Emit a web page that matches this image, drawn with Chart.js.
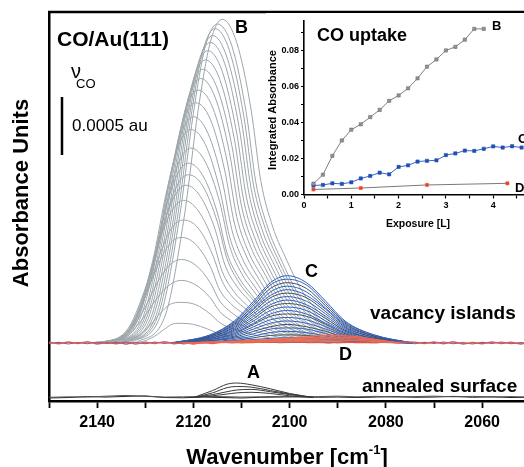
<!DOCTYPE html>
<html>
<head>
<meta charset="utf-8">
<script src="https://cdn.jsdelivr.net/npm/chart.js@4.4.0/dist/chart.umd.min.js"></script>
<style>
html, body { margin: 0; padding: 0; background: #fff; overflow: hidden; }
#wrap { position: relative; width: 524px; height: 467px; overflow: hidden; }
#main { position: absolute; left: 0; top: 0; }
#inset { position: absolute; left: 266px; top: 13px; }
</style>
</head>
<body>
<div id="wrap">
<canvas id="main" width="545" height="467" style="width:545px;height:467px"></canvas>
<canvas id="inset" width="282" height="222" style="width:282px;height:222px"></canvas>
</div>
<script>
const FONT = "'Liberation Sans', Arial, sans-serif";

// - - - - - - - - - - Spectra (wavenumber cm-1, absorbance in mAU) - - - - - - - - - -

// B band: gray curves, peak moves from ~2123 to ~2114 while growing
const bandB = [
  [[2136,0],[2131,.01],[2128,.06],[2126,.12],[2124.5,.16],[2123,.17],[2120,.16],[2117,.12],[2115,.085],[2112.5,.06],[2110,.046],[2106,.026],[2100,.01],[2092,0]],
  [[2138,0],[2133,.03],[2129.5,.13],[2127,.25],[2125,.33],[2122.5,.35],[2119.5,.33],[2116.5,.25],[2114.5,.175],[2112,.126],[2109.5,.095],[2105.5,.053],[2099.5,.021],[2091.5,0]],
  [[2140.5,0],[2134.5,.04],[2130.5,.21],[2127.5,.39],[2125,.50],[2122.5,.54],[2119.5,.50],[2116.5,.39],[2114.5,.27],[2112,.19],[2109.5,.146],[2105.5,.081],[2099.5,.032],[2091.5,0]],
  [[2140.5,0],[2134.5,.06],[2130.5,.27],[2127.5,.52],[2125,.67],[2122.5,.72],[2119.5,.67],[2116.5,.52],[2114.5,.36],[2112,.26],[2109.5,.19],[2105.5,.108],[2099.5,.043],[2091.5,0]],
  [[2140.5,0],[2134.5,.07],[2130.5,.35],[2127.5,.66],[2125,.85],[2122.5,.91],[2119.5,.85],[2116.5,.66],[2114.5,.455],[2112,.33],[2109.5,.25],[2105.5,.137],[2099.5,.055],[2091.5,0]],
  [[2140,0],[2134,.08],[2130,.40],[2127,.76],[2124.5,.99],[2122,1.06],[2119,.99],[2116,.76],[2114,.53],[2111.5,.38],[2109,.29],[2105,.16],[2099,.064],[2091,0]],
  [[2140,0],[2134,.10],[2130,.47],[2127,.89],[2124.5,1.14],[2122,1.23],[2119,1.14],[2116,.89],[2114,.615],[2111.5,.44],[2109,.33],[2105,.185],[2099,.074],[2091,0]],
  [[2139.5,0],[2133.5,.11],[2129.5,.52],[2126.5,.98],[2124,1.26],[2121.5,1.36],[2118.5,1.26],[2115.5,.98],[2113.5,.68],[2111,.49],[2108.5,.37],[2104.5,.20],[2098.5,.08],[2090.5,0]],
  [[2139,0],[2133,.12],[2129,.55],[2126,1.04],[2123.5,1.35],[2121,1.45],[2118,1.35],[2115,1.04],[2113,.725],[2110.5,.52],[2108,.39],[2104,.22],[2098,.087],[2090,0]],
  [[2139,0],[2133,.12],[2129,.59],[2126,1.12],[2123.5,1.44],[2121,1.55],[2118,1.44],[2115,1.12],[2113,.775],[2110.5,.56],[2108,.42],[2104,.23],[2098,.093],[2090,0]],
  [[2138.5,0],[2132.5,.13],[2128.5,.64],[2125.5,1.21],[2123,1.56],[2120.5,1.68],[2117.5,1.56],[2114.5,1.21],[2112.5,.84],[2110,.60],[2107.5,.45],[2103.5,.25],[2097.5,.10],[2089.5,0]],
  [[2138.5,0],[2132.5,.15],[2128.5,.70],[2125.5,1.32],[2123,1.71],[2120.5,1.84],[2117.5,1.71],[2114.5,1.32],[2112.5,.92],[2110,.66],[2107.5,.50],[2103.5,.28],[2097.5,.11],[2089.5,0]],
  [[2138,0],[2132,.16],[2128,.74],[2125,1.40],[2122.5,1.81],[2120,1.95],[2117,1.81],[2114,1.40],[2112,.975],[2109.5,.70],[2107,.53],[2103,.29],[2097,.12],[2089,0]],
  [[2137.5,0],[2131.5,.17],[2127.5,.79],[2124.5,1.49],[2122,1.93],[2119.5,2.07],[2116.5,1.93],[2113.5,1.49],[2111.5,1.035],[2109,.75],[2106.5,.56],[2102.5,.31],[2096.5,.12],[2088.5,0]],
  [[2137,0],[2131,.17],[2127,.83],[2124,1.57],[2121.5,2.03],[2119,2.18],[2116,2.03],[2113,1.57],[2111,1.09],[2108.5,.78],[2106,.59],[2102,.33],[2096,.13],[2088,0]],
  [[2136.5,0],[2130.5,.18],[2126.5,.87],[2123.5,1.64],[2121,2.12],[2118.5,2.28],[2115.5,2.12],[2112.5,1.64],[2110.5,1.14],[2108,.82],[2105.5,.62],[2101.5,.34],[2095.5,.14],[2087.5,0]],
  [[2136,0],[2130,.19],[2126,.90],[2123,1.70],[2120.5,2.19],[2118,2.36],[2115,2.19],[2112,1.70],[2110,1.18],[2107.5,.85],[2105,.64],[2101,.35],[2095,.14],[2087,0]],
  [[2135.5,0],[2129.5,.20],[2125.5,.93],[2122.5,1.76],[2120,2.27],[2117.5,2.44],[2114.5,2.27],[2111.5,1.76],[2109.5,1.22],[2107,.88],[2104.5,.66],[2100.5,.37],[2094.5,.15],[2086.5,0]],
  [[2135,0],[2129,.20],[2125,.96],[2122,1.81],[2119.5,2.34],[2117,2.52],[2114,2.34],[2111,1.81],[2109,1.26],[2106.5,.91],[2104,.68],[2100,.38],[2094,.15],[2086,0]],
  [[2134.5,0],[2128.5,.21],[2124.5,.98],[2121.5,1.86],[2119,2.41],[2116.5,2.59],[2113.5,2.41],[2110.5,1.86],[2108.5,1.30],[2106,.93],[2103.5,.70],[2099.5,.39],[2093.5,.16],[2085.5,0]],
  [[2134,0],[2128,.21],[2124,1.01],[2121,1.91],[2118.5,2.46],[2116,2.65],[2113,2.46],[2110,1.91],[2108,1.33],[2105.5,.95],[2103,.72],[2099,.40],[2093,.16],[2085,0]],
  [[2133.5,0],[2127.5,.22],[2123.5,1.03],[2120.5,1.95],[2118,2.52],[2115.5,2.71],[2112.5,2.52],[2109.5,1.95],[2107.5,1.36],[2105,.98],[2102.5,.73],[2098.5,.41],[2092.5,.16],[2084.5,0]],
  [[2133,0],[2127,.22],[2123,1.05],[2120,1.98],[2117.5,2.56],[2115,2.75],[2112,2.56],[2109,1.98],[2107,1.38],[2104.5,.99],[2102,.74],[2098,.41],[2092,.17],[2084,0]],
  [[2132,0],[2126,.22],[2122,1.06],[2119,2.01],[2116.5,2.59],[2114,2.79],[2111,2.59],[2108,2.01],[2106,1.40],[2103.5,1.00],[2101,.75],[2097,.42],[2091,.17],[2083,0]]
];

// C band: blue curves at ~2100
const cWave = [2124.5, 2116.5, 2111.5, 2107.5, 2104, 2100.5, 2096.5, 2092.5, 2088.5, 2082.5, 2074.5];
const bandC = [
  [0,.07,.19,.36,.52,.58,.52,.36,.19,.07,0],
  [0,.07,.18,.34,.50,.55,.50,.34,.18,.07,0],
  [0,.06,.17,.32,.47,.52,.47,.32,.17,.06,0],
  [0,.06,.16,.30,.44,.49,.44,.30,.16,.06,0],
  [0,.06,.15,.29,.41,.46,.41,.29,.15,.06,0],
  [0,.05,.14,.27,.39,.43,.39,.27,.14,.05,0],
  [0,.05,.13,.25,.36,.40,.36,.25,.13,.05,0],
  [0,.04,.12,.23,.33,.37,.33,.23,.12,.04,0],
  [0,.04,.11,.21,.31,.34,.31,.21,.11,.04,0],
  [0,.04,.10,.19,.28,.31,.28,.19,.10,.04,0],
  [0,.03,.09,.17,.25,.28,.25,.17,.09,.03,0],
  [0,.03,.08,.16,.23,.25,.23,.16,.08,.03,0],
  [0,.03,.07,.14,.20,.22,.20,.14,.07,.03,0],
  [0,.02,.06,.12,.17,.19,.17,.12,.06,.02,0],
  [0,.02,.05,.10,.14,.16,.14,.10,.05,.02,0],
  [0,.02,.04,.08,.12,.13,.12,.08,.04,.02,0],
  [0,.01,.03,.06,.09,.10,.09,.06,.03,.01,0],
  [0,.01,.02,.045,.065,.07,.065,.045,.02,.01,0],
  [0,.005,.015,.03,.04,.045,.04,.03,.015,.005,0]
];

// D band: weak broad red hump
const dWave = [2122, 2112, 2104, 2097, 2092, 2087, 2082, 2077];
const bandD = [
  [0,.015,.03,.05,.065,.06,.03,0],
  [0,.012,.025,.04,.05,.048,.025,0],
  [0,.008,.018,.03,.038,.035,.018,0],
  [0,.005,.012,.02,.025,.022,.012,0]
];

// A band: annealed surface (offset trace)
const annealOffset = -0.47;
const aWave = [2120, 2116, 2113, 2111, 2108, 2104, 2100, 2095];
const bandA = [
  [0,.06,.115,.125,.11,.075,.035,0],
  [0,.04,.085,.095,.09,.06,.03,0],
  [0,.025,.05,.065,.07,.05,.025,0],
  [0,.015,.03,.04,.045,.035,.015,0]
];

// baselines (noise)
const noiseWave = [2150,2148,2146,2144,2142,2140,2138,2136,2134,2132,2130,2128,2126,2124,2122,2120,2118,2116,2114,2112,2110,2108,2106,2104,2102,2100,2098,2096,2094,2092,2090,2088,2086,2084,2082,2080,2078,2076,2074,2072,2070,2068,2066,2064,2062,2060,2058,2056,2054,2052,2050];
const baseRed  = [.006,-.006,.008,-.004,.01,-.008,.004,-.006,.008,-.01,.006,-.004,.01,-.006,.004,-.008,.006,-.004,.008,.002,.006,.004,.008,.006,.01,.008,.01,.006,.008,.004,.006,.008,.004,.006,.004,.008,.004,.01,.006,-.004,.008,-.006,.01,-.008,.004,-.006,.008,-.004,.006,-.008,.004];
const baseBlue = [-.004,.006,-.008,.004,-.006,.008,-.004,.006,-.01,.004,-.006,.008,-.004,.006,-.008,.004,.002,.006,.004,.008,.002,.006,.004,.006,.002,.004,.006,.002,.004,.006,.002,.004,.006,.004,.002,.006,.004,.002,-.006,.006,-.004,.008,-.006,.004,-.008,.006,-.004,.008,-.006,.004,-.004];
const baseWave = [2150,2146,2142,2138,2134,2130,2126,2122,2118,2114,2110,2106,2102,2098,2094,2090,2086,2082,2078,2074,2070,2066,2062,2058,2054,2050];
const baseAnneal1 = [.002,.006,.004,.012,.018,.01,.004,.006,.01,.008,.004,.006,.01,.004,.008,.012,.006,.01,.004,.008,.012,.006,.01,.004,.008,.004];
const baseAnneal2 = [-.004,.0,.008,.004,.01,.014,.0,-.002,.004,.0,-.004,.002,.004,.008,.002,.004,.0,.004,.008,.002,.004,.01,.002,.006,.0,.002];

// scale bar 0.0005 au = 0.5 mAU
const scaleBarX = 2147.3;
const scaleBarY = [1.62, 2.12];

const xTicksMain = [2140, 2120, 2100, 2080, 2060];

// - - - - - - - - - - Inset: CO uptake - - - - - - - - - -
const expB = [0.2,0.4,0.6,0.8,1.0,1.2,1.4,1.6,1.8,2.0,2.2,2.4,2.6,2.8,3.0,3.2,3.4,3.6,3.8];
const uptakeB = [.006,.011,.0215,.030,.036,.039,.043,.047,.052,.055,.059,.0645,.071,.075,.080,.082,.086,.092,.092];
const expC = [0.2,0.4,0.6,0.8,1.0,1.2,1.4,1.6,1.8,2.0,2.2,2.4,2.6,2.8,3.0,3.2,3.4,3.6,3.8,4.0,4.2,4.4,4.6];
const uptakeC = [.005,.0053,.0062,.0059,.0068,.0089,.0103,.0121,.0112,.0153,.0162,.0183,.0187,.019,.0219,.0228,.0244,.0242,.0254,.0267,.0261,.0268,.0261];
const expD = [0.2, 1.2, 2.6, 4.3];
const uptakeD = [.0028, .0036, .0053, .0062];

function pts(xs, ys, off) {
  return xs.map((x, i) => ({x: x, y: ys[i] + (off || 0)}));
}

function spectrum(data, color, width, order, smooth) {
  return {
    data: data,
    showLine: true,
    borderColor: color,
    borderWidth: width,
    pointRadius: 0,
    fill: false,
    cubicInterpolationMode: smooth === false ? 'default' : 'monotone',
    tension: 0,
    order: order
  };
}

const mainSets = [];
mainSets.push({
  data: [{x: scaleBarX, y: scaleBarY[0]}, {x: scaleBarX, y: scaleBarY[1]}],
  showLine: true, borderColor: '#000', borderWidth: 2.5, pointRadius: 0, order: 0
});
bandD.forEach(ys => mainSets.push(spectrum(pts(dWave, ys), '#ee6a50', 1.2, 1)));
mainSets.push(spectrum(pts(noiseWave, baseRed), '#e8553e', 1.4, 2, false));
mainSets.push(spectrum(pts(noiseWave, baseBlue), '#4a6cc8', 1.1, 2, false));
bandC.forEach((ys, i) => mainSets.push(spectrum(pts(cWave, ys), i % 3 === 2 ? '#4b5058' : '#2f5fc0', 1, 3)));
bandA.forEach(ys => mainSets.push(spectrum(pts(aWave, ys, annealOffset), '#3a3a3a', 1, 3)));
mainSets.push(spectrum(pts(baseWave, baseAnneal1, annealOffset), '#555', 1, 3, false));
mainSets.push(spectrum(pts(baseWave, baseAnneal2, annealOffset), '#222', 1, 3, false));
bandB.forEach(c => mainSets.push(spectrum(c.map(p => ({x: p[0], y: p[1]})), '#9ca6ab', 1, 5)));

const textosMain = {
  id: 'textosMain',
  afterDraw(chart) {
    const ctx = chart.ctx;
    const area = chart.chartArea;
    ctx.save();
    // top frame line
    ctx.strokeStyle = '#000';
    ctx.lineWidth = 2.5;
    ctx.beginPath();
    ctx.moveTo(area.left - 1, area.top);
    ctx.lineTo(chart.width, area.top);
    ctx.stroke();

    ctx.fillStyle = '#000';
    ctx.textBaseline = 'alphabetic';
    ctx.textAlign = 'left';
    ctx.font = 'bold 21px ' + FONT;
    ctx.fillText('CO/Au(111)', 57, 46);
    ctx.font = '20px ' + FONT;
    ctx.fillText('\u03bd', 71, 78);
    ctx.font = '13px ' + FONT;
    ctx.fillText('CO', 76, 88);
    ctx.font = '17px ' + FONT;
    ctx.fillText('0.0005 au', 72, 131);

    ctx.font = 'bold 18px ' + FONT;
    ctx.fillText('B', 235, 33);
    ctx.fillText('C', 305, 277);
    ctx.fillText('D', 339, 360);
    ctx.fillText('A', 247, 378);
    ctx.font = 'bold 19px ' + FONT;
    ctx.fillText('vacancy islands', 370, 319);
    ctx.fillText('annealed surface', 362, 392);

    // x title with superscript
    ctx.font = 'bold 22px ' + FONT;
    const t1 = 'Wavenumber [cm', t3 = ']';
    const w1 = ctx.measureText(t1).width;
    const w3 = ctx.measureText(t3).width;
    ctx.font = 'bold 13px ' + FONT;
    const w2 = ctx.measureText('-1').width;
    let x0 = 287 - (w1 + w2 + w3) / 2;
    ctx.font = 'bold 22px ' + FONT;
    ctx.fillText(t1, x0, 464);
    ctx.font = 'bold 13px ' + FONT;
    ctx.fillText('-1', x0 + w1, 454);
    ctx.font = 'bold 22px ' + FONT;
    ctx.fillText(t3, x0 + w1 + w2, 464);

    // y title
    ctx.translate(28, 193);
    ctx.rotate(-Math.PI / 2);
    ctx.textAlign = 'center';
    ctx.fillText('Absorbance Units', 0, 0);
    ctx.restore();
  }
};

new Chart(document.getElementById('main'), {
  type: 'scatter',
  data: { datasets: mainSets },
  options: {
    responsive: false,
    animation: false,
    layout: { padding: { left: 0, right: 14.75, top: 12, bottom: 0 } },
    plugins: { legend: { display: false }, tooltip: { enabled: false } },
    scales: {
      x: {
        type: 'linear',
        reverse: true,
        min: 2050,
        max: 2150,
        afterFit: s => { s.height = 66; },
        ticks: {
          stepSize: 10,
          autoSkip: false,
          maxRotation: 0,
          padding: 5,
          color: '#000',
          font: { family: FONT, size: 16, weight: 'bold' },
          callback: v => xTicksMain.includes(v) ? String(v) : ''
        },
        grid: { display: true, drawOnChartArea: false, drawTicks: true, tickLength: 7, tickColor: '#000', tickWidth: 1.8 },
        border: { display: true, color: '#000', width: 2.5 }
      },
      y: {
        min: -0.5,
        max: 2.853,
        afterFit: s => { s.width = 49; },
        ticks: { display: false },
        grid: { display: false },
        border: { display: true, color: '#000', width: 2.5 }
      }
    }
  },
  plugins: [textosMain]
});

// - - - - - - - - - - Inset - - - - - - - - - -
const textosInset = {
  id: 'textosInset',
  beforeDraw(chart) {
    const ctx = chart.ctx;
    const area = chart.chartArea;
    ctx.save();
    ctx.fillStyle = '#fff';
    ctx.fillRect(0, 0, chart.width, area.bottom + 5);
    ctx.fillRect(area.left - 8, area.bottom + 5, chart.width, chart.height);
    ctx.restore();
  },
  afterDraw(chart) {
    const ctx = chart.ctx;
    ctx.save();
    ctx.fillStyle = '#000';
    ctx.textAlign = 'left';
    ctx.font = 'bold 18px ' + FONT;
    ctx.fillText('CO uptake', 51, 28);
    ctx.font = 'bold 13px ' + FONT;
    ctx.fillText('B', 226, 17);
    ctx.fillText('C', 252, 130);
    ctx.fillText('D', 249, 179);
    ctx.font = 'bold 10.5px ' + FONT;
    ctx.textAlign = 'center';
    ctx.fillText('Exposure [L]', 152, 214);
    ctx.translate(10, 97);
    ctx.rotate(-Math.PI / 2);
    ctx.font = 'bold 11px ' + FONT;
    ctx.fillText('Integrated Absorbance', 0, 0);
    ctx.restore();
  }
};

new Chart(document.getElementById('inset'), {
  type: 'scatter',
  data: {
    datasets: [
      {
        data: pts(expB, uptakeB), showLine: true, borderColor: '#7d8286', borderWidth: 1,
        pointStyle: 'rect', pointRadius: 2.3, pointBackgroundColor: '#8e9397', pointBorderColor: '#6c7175', pointBorderWidth: 0.6
      },
      {
        data: pts(expC, uptakeC), showLine: true, borderColor: '#3d66c6', borderWidth: 1,
        pointStyle: 'rect', pointRadius: 2.3, pointBackgroundColor: '#2150b4', pointBorderColor: '#2150b4', pointBorderWidth: 0.6
      },
      {
        data: pts(expD, uptakeD), showLine: true, borderColor: '#7a7a7a', borderWidth: 1,
        pointStyle: 'rect', pointRadius: 2.3, pointBackgroundColor: '#f03a24', pointBorderColor: '#f06a50', pointBorderWidth: 0.6
      }
    ]
  },
  options: {
    responsive: false,
    animation: false,
    layout: { padding: { left: 0, right: 7.5, top: 0, bottom: 0 } },
    plugins: { legend: { display: false }, tooltip: { enabled: false } },
    scales: {
      x: {
        type: 'linear',
        min: 0,
        max: 5,
        afterFit: s => { s.height = 40.5; },
        ticks: {
          stepSize: 0.5,
          autoSkip: false,
          maxRotation: 0,
          padding: 2,
          color: '#000',
          font: { family: FONT, size: 9, weight: 'bold' },
          callback: v => Number.isInteger(v) ? String(v) : ''
        },
        grid: { display: true, drawOnChartArea: false, drawTicks: true, tickLength: 4, tickColor: '#000', tickWidth: 1.2 },
        border: { display: true, color: '#000', width: 1.6 }
      },
      y: {
        min: 0,
        max: 0.0967,
        afterFit: s => { s.width = 38; },
        ticks: {
          stepSize: 0.01,
          includeBounds: false,
          autoSkip: false,
          padding: 2,
          color: '#000',
          font: { family: FONT, size: 9, weight: 'bold' },
          callback: v => (Math.round(v * 100) % 2 === 0) ? v.toFixed(2) : ''
        },
        grid: { display: true, drawOnChartArea: false, drawTicks: true, tickLength: 3, tickColor: '#000', tickWidth: 1.2 },
        border: { display: true, color: '#000', width: 1.6 }
      }
    }
  },
  plugins: [textosInset]
});
</script>
</body>
</html>
